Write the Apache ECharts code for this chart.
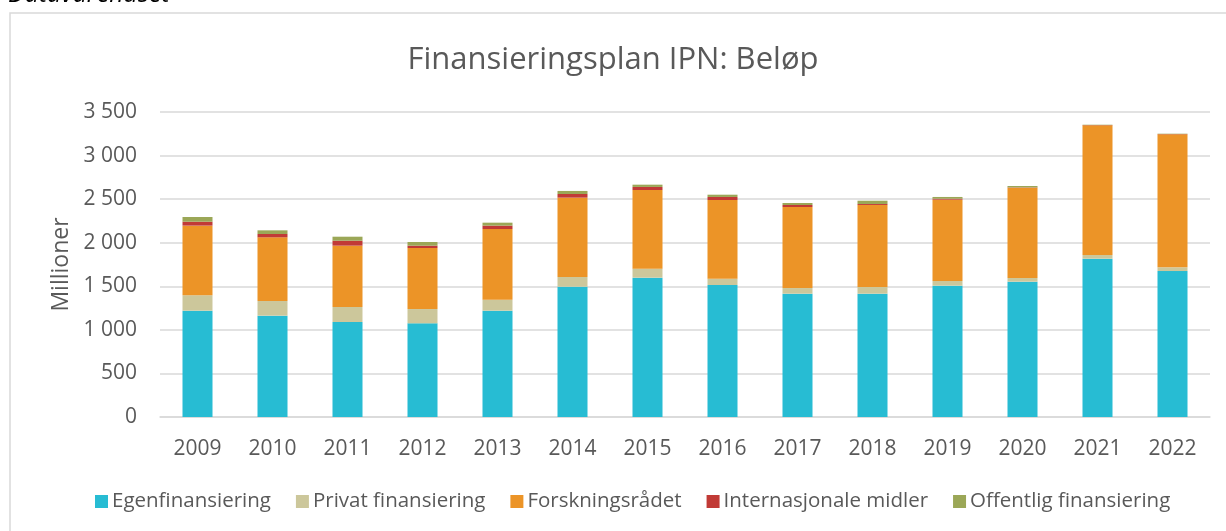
<!DOCTYPE html>
<html>
<head>
<meta charset="utf-8">
<script src="https://cdn.jsdelivr.net/npm/echarts@6/dist/echarts.min.js"></script>
<style>
  html, body { margin: 0; padding: 0; background: #fff; }
  #chart { width: 1226px; height: 531px; }
</style>
</head>
<body>
<div id="chart"></div>
<script>
// Financing plan per year, amounts in millions NOK
const years = ['2009','2010','2011','2012','2013','2014','2015','2016','2017','2018','2019','2020','2021','2022'];
const egenfinansiering     = [1220, 1163, 1090, 1075, 1220, 1495, 1599, 1515, 1415, 1415, 1507, 1553, 1817, 1675];
const privatFinansiering   = [177, 168, 172, 164, 126, 112, 103, 72, 65, 77, 54, 42, 42, 43];
const forskningsradet      = [799, 731, 704, 700, 811, 910, 903, 903, 930, 941, 933, 1036, 1488, 1526];
const internasjonaleMidler = [45, 38, 57, 27, 39, 42, 35, 35, 23, 11, 11, 4, 3, 3];
const offentligFinansiering = [54, 42, 46, 42, 34, 35, 26, 26, 23, 38, 20, 16, 4, 4];
const yTicks = [0, 500, 1000, 1500, 2000, 2500, 3000, 3500];

const font = '"Open Sans", "Noto Sans", sans-serif';
const textColor = '#595959';

const seriesDefs = [
  { name: 'Egenfinansiering', data: egenfinansiering, color: '#27BCD3' },
  { name: 'Privat finansiering', data: privatFinansiering, color: '#CCC79B' },
  { name: 'Forskningsrådet', data: forskningsradet, color: '#EC9427' },
  { name: 'Internasjonale midler', data: internasjonaleMidler, color: '#C13A36' },
  { name: 'Offentlig finansiering', data: offentligFinansiering, color: '#9BA757' }
];

const chart = echarts.init(document.getElementById('chart'), null, { renderer: 'canvas' });

chart.setOption({
  animation: false,
  backgroundColor: '#fff',
  textStyle: { fontFamily: font },
  graphic: [
    {
      type: 'rect',
      shape: { x: 10, y: 13, width: 1240, height: 560 },
      style: { fill: 'none', stroke: '#d9d9d9', lineWidth: 1.5 },
      silent: true
    },
    {
      type: 'text',
      silent: true,
      style: {
        x: 8, y: 7,
        text: 'Datavarehuset',
        font: 'italic 25px ' + font,
        fill: '#000',
        verticalAlign: 'bottom'
      }
    }
  ],
  title: {
    text: 'Finansieringsplan IPN: Beløp',
    left: 'center',
    top: 40,
    textStyle: { fontFamily: font, fontSize: 31, fontWeight: 'normal', color: textColor }
  },
  legend: {
    bottom: 14,
    left: 90,
    itemWidth: 13,
    itemHeight: 13,
    itemGap: 25,
    icon: 'rect',
    textStyle: { fontFamily: font, fontSize: 20.5, color: textColor, padding: [0, 0, 0, -1] },
    data: seriesDefs.map(s => s.name)
  },
  grid: { left: 160, right: 16, top: 112, bottom: 114, containLabel: false },
  xAxis: {
    type: 'category',
    data: years,
    axisTick: { show: false },
    axisLine: { lineStyle: { color: '#d9d9d9', width: 1.5 } },
    axisLabel: { fontFamily: font, fontSize: 21, color: textColor, margin: 22 }
  },
  yAxis: {
    type: 'value',
    min: yTicks[0],
    max: yTicks[yTicks.length - 1],
    interval: 500,
    name: 'Millioner',
    nameLocation: 'middle',
    nameGap: 86,
    nameTextStyle: { fontFamily: font, fontSize: 23, color: textColor },
    axisLine: { show: false },
    axisTick: { show: false },
    splitLine: { lineStyle: { color: '#d9d9d9', width: 1.5 } },
    axisLabel: {
      fontFamily: font, fontSize: 21, color: textColor, margin: 23,
      formatter: v => String(v).replace(/\B(?=(\d{3})+(?!\d))/g, ' ')
    }
  },
  series: seriesDefs.map(s => ({
    name: s.name,
    type: 'bar',
    stack: 'total',
    barWidth: 30,
    data: s.data,
    itemStyle: { color: s.color },
    emphasis: { disabled: true }
  }))
});
</script>
</body>
</html>
